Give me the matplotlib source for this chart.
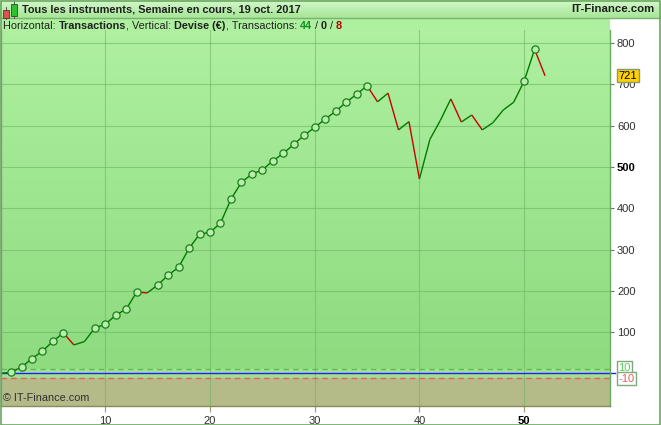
import numpy as np
import matplotlib.pyplot as plt
from matplotlib.collections import LineCollection
from matplotlib.patches import Rectangle

plt.rcParams['font.family'] = ['Liberation Sans', 'DejaVu Sans']

# Données
transactions = np.arange(0, 53)
devise = [0, 3, 15, 36, 54, 78, 98, 69, 77, 110, 119, 141, 156, 197, 195, 214,
          238, 257, 303, 337, 342, 364, 422, 463, 483, 493, 515, 533, 555, 577,
          596, 616, 635, 657, 676, 697, 658, 679, 590, 610, 471, 567, 613, 665,
          609, 626, 590, 607, 638, 657, 708, 785, 721]
y_ticks = [100, 200, 300, 400, 500, 600, 700, 800]
x_ticks = [10, 20, 30, 40, 50]
titre = 'Tous les instruments, Semaine en cours, 19 oct. 2017'
derniere = 721
seuil = 10

W, H = 661, 425
fig = plt.figure(figsize=(W / 100, H / 100), dpi=100)
fig.patch.set_facecolor('white')


def fx(px):
    return px / W


def fy(py):
    return 1 - py / H


# Bandeau du titre (dégradé)
axh = fig.add_axes([0, fy(18), 1, 18 / H])
grad = np.linspace(0, 1, 50).reshape(-1, 1)
axh.imshow(grad, extent=[0, 1, 0, 1], aspect='auto', origin='upper',
           cmap=plt.matplotlib.colors.LinearSegmentedColormap.from_list(
               'h', ['#d4f8cc', '#a6e696']))
axh.set_xlim(0, 1)
axh.set_ylim(0, 1)
axh.axis('off')

# Bande du sous-titre
fig.patches.append(Rectangle((fx(1), fy(30)), fx(609), 12 / H,
                             transform=fig.transFigure, facecolor='#aef0a0',
                             edgecolor='none', zorder=0.5))

# Zone du graphique
ax = fig.add_axes([fx(1), fy(406), fx(609), 376 / H])
xmin, xmax = 0.04, 58.2
ymin, ymax = -79, 832
ax.set_xlim(xmin, xmax)
ax.set_ylim(ymin, ymax)

cmap_bg = plt.matplotlib.colors.LinearSegmentedColormap.from_list(
    'bg', ['#aef0a0', '#8edb80'])
ax.imshow(grad, extent=[xmin, xmax, seuil, ymax], aspect='auto',
          origin='upper', cmap=cmap_bg, zorder=0)
ax.axhspan(-seuil, seuil, color='#a4df96', zorder=0.5)
ax.axhspan(ymin, -seuil, color='#b4bb88', zorder=0.5)

for v in y_ticks:
    ax.axhline(v, color='#6fb664', lw=0.8, alpha=0.6, zorder=1)
for v in x_ticks:
    ax.axvline(v, color='#6fb664', lw=0.8, alpha=0.6, zorder=1)

ax.axhline(seuil, color='#55c055', lw=1, ls=(0, (4, 3)), zorder=2)
ax.axhline(-seuil, color='#e86060', lw=1, ls=(0, (4, 3)), zorder=2)
ax.axhline(0, color='#2020ff', lw=1, zorder=2)

# Courbe : segments verts (hausse) / rouges (baisse)
pts = np.column_stack([transactions, devise])
segs = np.stack([pts[:-1], pts[1:]], axis=1)
diff = np.diff(devise)
cols = ['#007a00' if d >= 0 else '#cc0000' for d in diff]
ax.add_collection(LineCollection(segs, colors=cols, linewidths=1.0, zorder=3))

# Cercles sur les nouveaux plus hauts
dev = np.array(devise)
prev_max = np.maximum.accumulate(dev)[:-1]
hauts = np.where(dev[1:] > prev_max)[0] + 1
ax.plot(transactions[hauts], dev[hauts], 'o', ms=5.2, mfc='#b8eeaa',
        mec='#1a7f1a', mew=0.9, ls='none', zorder=4)

# Axes
ax.yaxis.tick_right()
ax.set_yticks(y_ticks)
ax.set_yticklabels([str(v) for v in y_ticks])
ax.set_xticks(x_ticks)
ax.set_xticklabels([str(v) for v in x_ticks])
ax.tick_params(axis='y', length=3, width=0.8, color='#707070', pad=2,
               labelsize=8, labelcolor='#303030')
ax.tick_params(axis='x', length=4, width=0.8, color='#90a070', pad=3,
               labelsize=8, labelcolor='#303030')
for lab in ax.get_yticklabels():
    if lab.get_text() == '500':
        lab.set_fontweight('bold')
        lab.set_color('black')
for lab in ax.get_xticklabels():
    if lab.get_text() == '50':
        lab.set_fontweight('bold')
        lab.set_color('black')

ax.spines['top'].set_visible(False)
ax.spines['left'].set_color('#8a9a7a')
ax.spines['right'].set_color('#6aaa60')
ax.spines['bottom'].set_color('#8a8a5a')
for s in ax.spines.values():
    s.set_linewidth(1)

# Étiquettes à droite
ax.annotate(str(derniere), xy=(1, derniere), xycoords=('axes fraction', 'data'),
            xytext=(6, 0), textcoords='offset points', va='center', ha='left',
            fontsize=8, color='black', annotation_clip=False, zorder=10,
            bbox=dict(boxstyle='square,pad=0.15', fc='#ffd200', ec='#8a9a6a', lw=1))
ax.annotate(str(seuil), xy=(1, seuil + 3), xycoords=('axes fraction', 'data'),
            xytext=(6, 0), textcoords='offset points', va='center', ha='left',
            fontsize=8, color='#55cc55', annotation_clip=False, zorder=9,
            bbox=dict(boxstyle='square,pad=0.15', fc='white', ec='#80a878', lw=1))
ax.annotate(str(-seuil), xy=(1, -seuil - 3), xycoords=('axes fraction', 'data'),
            xytext=(6, 0), textcoords='offset points', va='center', ha='left',
            fontsize=8, color='#e06060', annotation_clip=False, zorder=10,
            bbox=dict(boxstyle='square,pad=0.15', fc='white', ec='#80a878', lw=1))
ax.plot([xmax, xmax + 0.5], [0, 0], color='#2020ff', lw=1, clip_on=False, zorder=2)

ax.text(0.003, 0.014, '© IT-Finance.com', transform=ax.transAxes, fontsize=7.8,
        color='#303030', zorder=5)

# Titre et site
fig.text(fx(22), fy(9), titre, fontsize=7.95, fontweight='bold', va='center',
         color='#202020')
fig.text(fx(655), fy(9), 'IT-Finance.com', fontsize=8.2, fontweight='bold',
         va='center', ha='right', color='#202020')

# Icône (deux bougies)
for x0, y0, w, h, c, wk in [(3, 10, 6, 8, '#e05050', (6, 7, 19)),
                            (11, 4, 6, 12, '#30c030', (14, 1, 18))]:
    fig.patches.append(Rectangle((fx(x0), fy(y0 + h)), fx(w), h / H,
                                 transform=fig.transFigure, facecolor=c,
                                 edgecolor='#404040', lw=0.6, zorder=6))
    fig.lines.append(plt.Line2D([fx(wk[0]), fx(wk[0])], [fy(wk[2]), fy(wk[1])],
                                transform=fig.transFigure, color='#404040',
                                lw=0.6, zorder=5))

# Sous-titre à styles mixtes
renderer = fig.canvas.get_renderer()
parts = [('Horizontal: ', 'normal', '#202020'),
         ('Transactions', 'bold', '#202020'),
         (', Vertical: ', 'normal', '#202020'),
         ('Devise (€)', 'bold', '#202020'),
         (', Transactions: ', 'normal', '#202020'),
         ('44', 'bold', '#10901a'),
         (' / ', 'normal', '#202020'),
         ('0', 'bold', '#202020'),
         (' / ', 'normal', '#202020'),
         ('8', 'bold', '#b00000')]
xpos = fx(3)
for s, wgt, c in parts:
    t = fig.text(xpos, fy(29), s, fontsize=7.8, fontweight=wgt, color=c,
                 va='baseline', zorder=7)
    xpos += t.get_window_extent(renderer).width / W

# Lignes de séparation et cadre
fig.lines.append(plt.Line2D([0, 1], [fy(18), fy(18)], transform=fig.transFigure,
                            color='#7ab070', lw=1))
fig.patches.append(Rectangle((0.5 / W, 0.5 / H), 1 - 1.5 / W, 1 - 1.5 / H,
                             transform=fig.transFigure, fill=False,
                             edgecolor='#6aa860', lw=1.2, zorder=20))

fig.savefig('out.png', dpi=100)
